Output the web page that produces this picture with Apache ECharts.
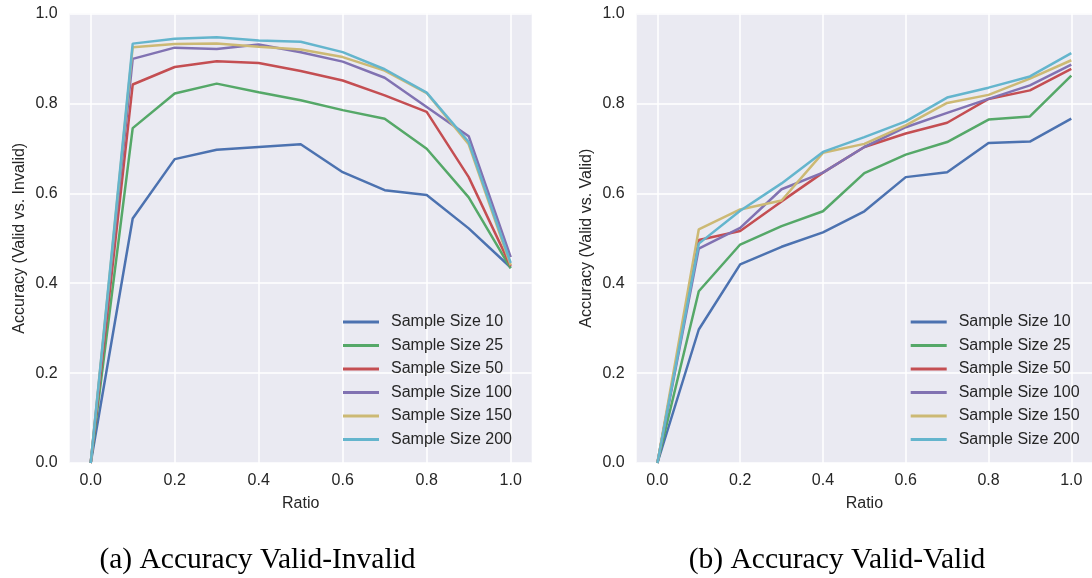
<!DOCTYPE html>
<html>
<head>
<meta charset="utf-8">
<script src="https://cdn.jsdelivr.net/npm/echarts@6/dist/echarts.min.js"></script>
<style>
html,body{margin:0;padding:0;background:#fff;}
#chart{width:1092px;height:578px;}
</style>
</head>
<body>
<div id="chart"></div>
<script>
const ratios = [0, 0.1, 0.2, 0.3, 0.4, 0.5, 0.6, 0.7, 0.8, 0.9, 1.0];
const xTicks = [0, 0.2, 0.4, 0.6, 0.8, 1.0];
const seriesNames = ['Sample Size 10', 'Sample Size 25', 'Sample Size 50', 'Sample Size 100', 'Sample Size 150', 'Sample Size 200'];

// (a) Valid vs. Invalid
const inv10  = [0, 0.544, 0.676, 0.697, 0.703, 0.709, 0.647, 0.607, 0.596, 0.522, 0.435];
const inv25  = [0, 0.745, 0.822, 0.844, 0.825, 0.807, 0.785, 0.766, 0.699, 0.591, 0.433];
const inv50  = [0, 0.842, 0.881, 0.894, 0.890, 0.872, 0.851, 0.818, 0.781, 0.636, 0.438];
const inv100 = [0, 0.899, 0.924, 0.921, 0.931, 0.914, 0.893, 0.857, 0.792, 0.727, 0.458];
const inv150 = [0, 0.925, 0.932, 0.933, 0.926, 0.920, 0.903, 0.873, 0.823, 0.709, 0.440];
const inv200 = [0, 0.933, 0.944, 0.947, 0.940, 0.937, 0.914, 0.876, 0.824, 0.714, 0.445];

// (b) Valid vs. Valid
const val10  = [0, 0.297, 0.442, 0.481, 0.513, 0.560, 0.636, 0.647, 0.712, 0.715, 0.766];
const val25  = [0, 0.382, 0.486, 0.527, 0.560, 0.645, 0.686, 0.714, 0.764, 0.771, 0.862];
const val50  = [0, 0.496, 0.516, 0.582, 0.646, 0.703, 0.733, 0.757, 0.810, 0.829, 0.877];
const val100 = [0, 0.477, 0.523, 0.609, 0.646, 0.703, 0.747, 0.779, 0.810, 0.840, 0.886];
const val150 = [0, 0.520, 0.564, 0.584, 0.690, 0.710, 0.751, 0.801, 0.819, 0.855, 0.896];
const val200 = [0, 0.488, 0.561, 0.622, 0.692, 0.725, 0.760, 0.813, 0.835, 0.860, 0.912];

const colors = ['#4C72B0', '#55A868', '#C44E52', '#8172B2', '#CCB974', '#64B5CD'];
const invData = [inv10, inv25, inv50, inv100, inv150, inv200];
const valData = [val10, val25, val50, val100, val150, val200];

const FONT = '"Liberation Sans", Arial, sans-serif';
const TXT = '#262626';

function xAxisDef(gridIndex) {
  return {
    type: 'value', gridIndex: gridIndex, min: -0.05, max: 1.05,
    name: 'Ratio', nameLocation: 'middle', nameGap: 33,
    nameTextStyle: {color: TXT, fontSize: 16, fontFamily: FONT},
    axisLine: {show: false},
    axisTick: {show: false, customValues: xTicks},
    axisLabel: {customValues: xTicks, color: TXT, fontSize: 16, fontFamily: FONT, margin: 10,
      formatter: v => v.toFixed(1)},
    splitLine: {show: true, lineStyle: {color: '#ffffff', width: 1.5}}
  };
}
function yAxisDef(gridIndex, name) {
  return {
    type: 'value', gridIndex: gridIndex, min: 0, max: 1, interval: 0.2,
    name: name, nameLocation: 'middle', nameGap: 42,
    nameTextStyle: {color: TXT, fontSize: 16, fontFamily: FONT},
    axisLine: {show: false}, axisTick: {show: false},
    axisLabel: {color: TXT, fontSize: 16, fontFamily: FONT, margin: 12,
      formatter: v => v.toFixed(1)},
    splitLine: {show: true, lineStyle: {color: '#ffffff', width: 1.5}}
  };
}
function legendDef(left) {
  return {
    left: left, top: 313, orient: 'vertical', padding: 0,
    icon: 'rect', itemWidth: 36, itemHeight: 3, itemGap: 5.5,
    textStyle: {color: TXT, fontSize: 16, fontFamily: FONT, lineHeight: 18, padding: [0, 0, 0, 7]},
    data: seriesNames
  };
}

const series = [];
[invData, valData].forEach((set, gi) => {
  set.forEach((arr, i) => {
    series.push({
      type: 'line', name: seriesNames[i], xAxisIndex: gi, yAxisIndex: gi,
      data: ratios.map((r, k) => [r, arr[k]]),
      symbol: 'none', color: colors[i],
      itemStyle: {color: colors[i]},
      lineStyle: {width: 2.5, color: colors[i]},
      animation: false
    });
  });
});

const chart = echarts.init(document.getElementById('chart'));
chart.setOption({
  backgroundColor: '#ffffff',
  animation: false,
  grid: [
    {left: 69.7, top: 13.5, width: 462, height: 449.5, show: true, backgroundColor: '#EAEAF2', borderWidth: 0},
    {left: 636.7, top: 13.5, width: 462, height: 449.5, show: true, backgroundColor: '#EAEAF2', borderWidth: 0}
  ],
  xAxis: [xAxisDef(0), xAxisDef(1)],
  yAxis: [yAxisDef(0, 'Accuracy (Valid vs. Invalid)'), yAxisDef(1, 'Accuracy (Valid vs. Valid)')],
  legend: [legendDef(343), legendDef(910.7)],
  title: [
    {text: '(a) Accuracy Valid-Invalid', left: 252.5, top: 540, textAlign: 'center',
      textStyle: {fontFamily: '"Liberation Serif", "Times New Roman", serif', fontWeight: 'normal', fontSize: 29.5, color: '#000'}},
    {text: '(b) Accuracy Valid-Valid', left: 832, top: 540, textAlign: 'center',
      textStyle: {fontFamily: '"Liberation Serif", "Times New Roman", serif', fontWeight: 'normal', fontSize: 29.5, color: '#000'}}
  ],
  series: series
});
</script>
</body>
</html>
